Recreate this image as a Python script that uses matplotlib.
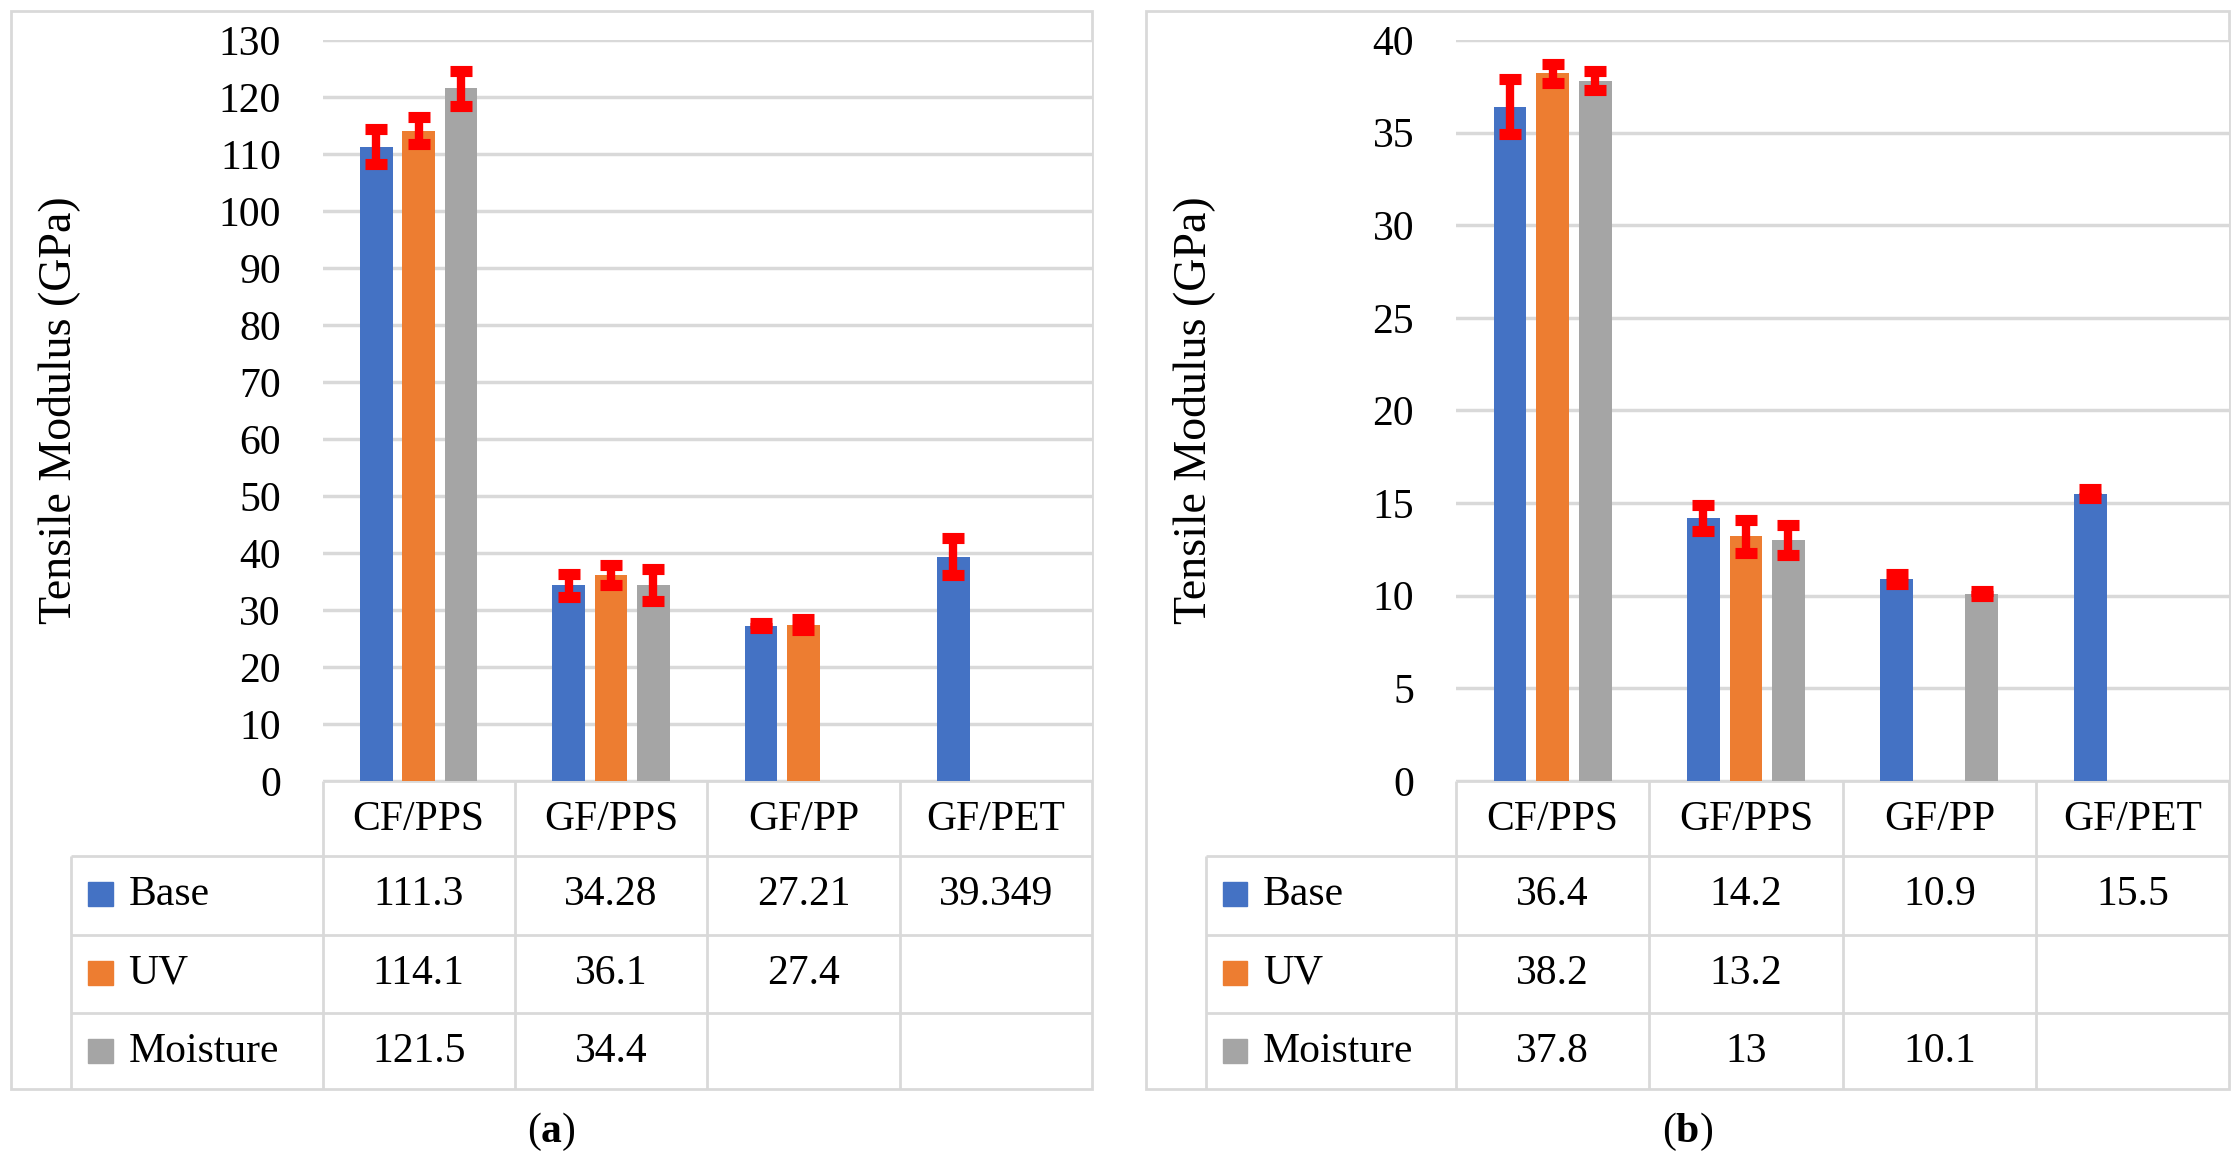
import matplotlib.pyplot as plt
import numpy as np
from matplotlib.patches import Rectangle

plt.rcParams['font.family'] = ['Liberation Serif', 'DejaVu Serif']
plt.rcParams['mathtext.fontset'] = 'custom'
plt.rcParams['mathtext.rm'] = 'Liberation Serif'
plt.rcParams['mathtext.bf'] = 'Liberation Serif:bold'

categories = ['CF/PPS', 'GF/PPS', 'GF/PP', 'GF/PET']
series = ['Base', 'UV', 'Moisture']
colors = ['#4472C4', '#ED7D31', '#A5A5A5']

# panel (a)
vals_a = [[111.3, 34.28, 27.21, 39.349],
          [114.1, 36.1, 27.4, None],
          [121.5, 34.4, None, None]]
err_a = [[3.0, 2.0, 0.4, 3.3],
         [2.3, 1.8, 0.9, None],
         [3.1, 2.8, None, None]]
# panel (b)
vals_b = [[36.4, 14.2, 10.9, 15.5],
          [38.2, 13.2, None, None],
          [37.8, 13, 10.1, None]]
err_b = [[1.5, 0.7, 0.25, 0.25],
         [0.5, 0.9, None, None],
         [0.5, 0.8, 0.15, None]]

W, H = 1568, 815.5
grid_c = '#d9d9d9'
fs = 30
fig = plt.figure(figsize=(22.38, 11.64), dpi=100)
canvas = fig.add_axes([0, 0, 1, 1])
canvas.set_xlim(0, W)
canvas.set_ylim(H, 0)
canvas.axis('off')


def line(x0, y0, x1, y1):
    canvas.plot([x0, x1], [y0, y1], color=grid_c, lw=2, solid_capstyle='butt')


def panel(box_l, plot_l, box_r, lab_l, vals, errs, ymax, ystep, letter):
    top, zero, bottom = 28, 547, 763
    canvas.add_patch(Rectangle((box_l, 8), box_r - box_l, bottom - 8,
                               fill=False, ec=grid_c, lw=2))
    ax = fig.add_axes([plot_l / W, 1 - zero / H, (box_r - plot_l) / W, (zero - top) / H])
    x = np.arange(len(categories))
    for i, s in enumerate(series):
        xs = [x[j] + (i - 1) * 0.22 for j in range(4) if vals[i][j] is not None]
        ys = [vals[i][j] for j in range(4) if vals[i][j] is not None]
        es = [errs[i][j] for j in range(4) if vals[i][j] is not None]
        ax.bar(xs, ys, width=0.17, color=colors[i], zorder=3)
        ax.errorbar(xs, ys, yerr=es, fmt='none', ecolor='#FF0000', elinewidth=6,
                    capsize=8, capthick=8, zorder=4)
    ax.set_xlim(-0.5, 3.5)
    ax.set_ylim(0, ymax)
    ax.set_yticks(np.arange(0, ymax + 1, ystep))
    ax.set_xticks([])
    for sp in ax.spines.values():
        sp.set_visible(False)
    ax.yaxis.grid(True, color=grid_c, lw=2.5, zorder=0)
    ax.tick_params(axis='y', length=0, labelsize=fs, pad=30)
    canvas.text(box_l + 33, (top + zero) / 2, 'Tensile Modulus (GPa)', rotation=90,
                ha='center', va='center', fontsize=33)

    # data table
    gw = (box_r - plot_l) / 4
    line(plot_l, zero, box_r, zero)
    for k in range(4):
        line(plot_l + gw * k, zero, plot_l + gw * k, bottom)
    for yy in (600, 655, 710):
        line(lab_l, yy, box_r, yy)
    line(lab_l, 600, lab_l, bottom)
    for j, c in enumerate(categories):
        canvas.text(plot_l + gw * (j + 0.5), 574, c, ha='center', va='center', fontsize=fs)
    for i, s in enumerate(series):
        yc = 627 + 55 * i
        canvas.add_patch(Rectangle((lab_l + 12, yc - 9), 17, 17, color=colors[i]))
        canvas.text(lab_l + 40, yc, s, ha='left', va='center', fontsize=fs)
        for j in range(4):
            if vals[i][j] is not None:
                canvas.text(plot_l + gw * (j + 0.5), yc, f'{vals[i][j]:g}',
                            ha='center', va='center', fontsize=fs)
    canvas.text((box_l + box_r) / 2, 793, r'($\mathbf{' + letter + '}$)',
                ha='center', va='center', fontsize=fs)


panel(8, 226, 765, 50, vals_a, err_a, 130, 10, 'a')
panel(803, 1020, 1562, 845, vals_b, err_b, 40, 5, 'b')

plt.savefig('out.png', dpi=100)
